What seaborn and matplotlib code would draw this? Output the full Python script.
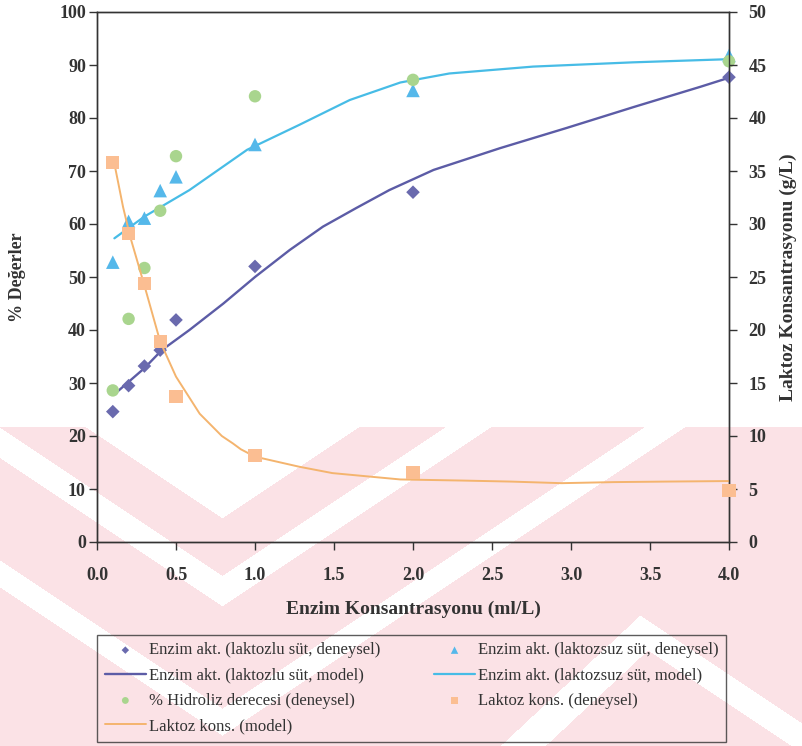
import numpy as np
import matplotlib
matplotlib.use("Agg")
import matplotlib.pyplot as plt
import seaborn as sns

# Enzyme concentration (ml/L) of the experiments
konsantrasyon = [0.1, 0.2, 0.3, 0.4, 0.5, 1.0, 2.0, 4.0]

# Experimental results
aktivite_laktozlu = [24.6, 29.5, 33.2, 36.2, 41.9, 52.0, 66.0, 87.7]
aktivite_laktozsuz = [52.8, 60.5, 61.1, 66.3, 68.9, 75.0, 85.2, 91.8]
hidroliz = [28.6, 42.1, 51.7, 62.5, 72.8, 84.1, 87.2, 90.7]
laktoz = [35.8, 29.1, 24.4, 18.9, 13.7, 8.2, 6.6, 4.9]  # g/L, right axis

# Model curves
model_laktozlu_x = [0.13, 0.30, 0.41, 0.585, 0.80, 1.0, 1.22, 1.43, 1.64, 1.85,
                    2.13, 2.55, 2.97, 3.40, 3.82, 4.0]
model_laktozlu_y = [28.4, 32.8, 36.2, 40.0, 45.0, 50.0, 55.1, 59.5, 63.0, 66.4,
                    70.2, 74.3, 78.1, 82.1, 85.9, 87.6]
model_laktozsuz_x = [0.11, 0.30, 0.585, 0.95, 1.28, 1.60, 1.92, 2.23, 2.76, 3.39, 4.0]
model_laktozsuz_y = [57.3, 61.4, 66.4, 74.0, 78.7, 83.4, 86.7, 88.4, 89.7, 90.5, 91.1]
model_laktoz_x = [0.11, 0.165, 0.21, 0.30, 0.40, 0.50, 0.65, 0.79, 0.86, 0.91, 1.0,
                  1.28, 1.49, 1.92, 2.3, 2.62, 2.94, 3.27, 3.6, 4.0]
model_laktoz_y = [35.7, 31.6, 28.8, 24.2, 18.9, 15.6, 12.1, 10.0, 9.3, 8.75, 8.05,
                  7.1, 6.5, 5.9, 5.8, 5.7, 5.55, 5.65, 5.7, 5.75]

x_ticks = [0.0, 0.5, 1.0, 1.5, 2.0, 2.5, 3.0, 3.5, 4.0]
sol_ticks = list(range(0, 101, 10))
sag_ticks = list(range(0, 51, 5))

etiketler = {
    "d_lu": "Enzim akt. (laktozlu süt, deneysel)",
    "m_lu": "Enzim akt. (laktozlu süt, model)",
    "hid": "% Hidroliz derecesi (deneysel)",
    "m_lak": "Laktoz kons. (model)",
    "d_suz": "Enzim akt. (laktozsuz süt, deneysel)",
    "m_suz": "Enzim akt. (laktozsuz süt, model)",
    "d_lak": "Laktoz kons. (deneysel)",
}

renk_mor = "#6a6aae"
renk_mor_cizgi = "#5c5ca6"
renk_mavi = "#55b8ea"
renk_mavi_cizgi = "#47bce6"
renk_yesil = "#a9d58e"
renk_turuncu = "#fbbe92"
renk_turuncu_cizgi = "#f4b46e"
koyu = "#333333"

sns.set_theme(style="white")
plt.rcParams["font.family"] = ["Liberation Serif", "DejaVu Serif"]

W, H = 802, 746
fig = plt.figure(figsize=(W / 100, H / 100), dpi=100)
fig.patch.set_facecolor("white")

# background stamp: pink chevron bands in the lower part of the page
yy, xx = np.mgrid[0:H, 0:W].astype(float)
s = xx + 1.5 * yy
t = xx - 1.5 * yy
d = np.maximum(s - 999.0, -555.0 - t)
beyaz = (d < 0) | ((d > 86) & (d < 132)) | ((d > 285) & (d < 326))
a = (xx - 640.0) - 1.5 * (yy - 615.0)
b = (640.0 - xx) - 1.07 * (yy - 615.0)
e = np.maximum(a, b)
beyaz |= (e > -45) & (e < 0)
pembe = (yy >= 427) & ~beyaz
img = np.ones((H, W, 3))
img[pembe] = np.array([251, 226, 230]) / 255.0
fig.figimage(img, xo=0, yo=0, origin="upper", zorder=-5)

ax = fig.add_axes([97 / W, 1 - 542 / H, 632 / W, 530 / H])
ax.patch.set_visible(False)
ax2 = ax.twinx()
ax2.patch.set_visible(False)

sns.lineplot(x=model_laktozlu_x, y=model_laktozlu_y, ax=ax, color=renk_mor_cizgi,
             lw=1.7, sort=False, estimator=None, label=etiketler["m_lu"], legend=False)
sns.lineplot(x=model_laktozsuz_x, y=model_laktozsuz_y, ax=ax, color=renk_mavi_cizgi,
             lw=1.6, sort=False, estimator=None, label=etiketler["m_suz"], legend=False)
sns.scatterplot(x=konsantrasyon, y=aktivite_laktozlu, ax=ax, marker="D", s=48,
                color=renk_mor, edgecolor="none", linewidth=0, zorder=3, clip_on=False,
                label=etiketler["d_lu"], legend=False)
sns.scatterplot(x=konsantrasyon, y=aktivite_laktozsuz, ax=ax, marker="^", s=95,
                color=renk_mavi, edgecolor="none", linewidth=0, zorder=3, clip_on=False,
                label=etiketler["d_suz"], legend=False)
sns.scatterplot(x=konsantrasyon, y=hidroliz, ax=ax, marker="o", s=80,
                color=renk_yesil, edgecolor="none", linewidth=0, zorder=3, clip_on=False,
                label=etiketler["hid"], legend=False)

sns.lineplot(x=model_laktoz_x, y=model_laktoz_y, ax=ax2, color=renk_turuncu_cizgi,
             lw=1.4, sort=False, estimator=None, label=etiketler["m_lak"], legend=False)
sns.scatterplot(x=konsantrasyon, y=laktoz, ax=ax2, marker="s", s=88,
                color=renk_turuncu, edgecolor="none", linewidth=0, zorder=3, clip_on=False,
                label=etiketler["d_lak"], legend=False)

ax.set_xlim(0, 4)
ax.set_ylim(0, 100)
ax2.set_ylim(0, 50)
ax.set_xticks(x_ticks)
ax.set_xticklabels([f"{v:.1f}" for v in x_ticks])
ax.set_yticks(sol_ticks)
ax2.set_yticks(sag_ticks)

for a_ in (ax, ax2):
    for sp in a_.spines.values():
        sp.set_color(koyu)
        sp.set_linewidth(1.0)
    a_.grid(False)

ax.tick_params(axis="x", bottom=True, top=False, direction="out", length=6, width=1,
               color=koyu, labelcolor=koyu, labelsize=13, pad=12)
ax.tick_params(axis="y", left=True, right=False, direction="out", length=6, width=1,
               color=koyu, labelcolor=koyu, labelsize=13, pad=2)
ax2.tick_params(axis="y", right=True, left=False, direction="out", length=6, width=1,
                color=koyu, labelcolor=koyu, labelsize=13, pad=8)
for lab in ax.get_xticklabels() + ax.get_yticklabels() + ax2.get_yticklabels():
    lab.set_fontweight("bold")

ax.set_xlabel("Enzim Konsantrasyonu (ml/L)", fontsize=14, fontweight="bold", color=koyu)
ax.xaxis.set_label_coords(0.5, -0.111)
ax.set_ylabel("% Değerler", fontsize=13, fontweight="bold", color=koyu)
ax.yaxis.set_label_coords(-0.113, 0.5)
ax2.set_ylabel("Laktoz Konsantrasyonu (g/L)", fontsize=14, fontweight="bold", color=koyu)
ax2.yaxis.set_label_coords(1.080, 0.5)

h1, l1 = ax.get_legend_handles_labels()
h2, l2 = ax2.get_legend_handles_labels()
tum = dict(zip(l1 + l2, h1 + h2))
sira = ["d_lu", "m_lu", "hid", "m_lak", "d_suz", "m_suz", "d_lak"]
handles = [tum[etiketler[k]] for k in sira]
labels = [etiketler[k] for k in sira]

leg = fig.legend(handles, labels, loc="upper left", ncol=2, mode="expand",
                 bbox_to_anchor=(97 / W, 4 / H, 629 / W, 107 / H),
                 bbox_transform=fig.transFigure, borderaxespad=0,
                 fontsize=12, markerscale=0.55, handlelength=2.5, handletextpad=0.15,
                 labelspacing=0.55, borderpad=0.45, frameon=True, fancybox=False)
leg.get_frame().set_facecolor("none")
leg.get_frame().set_edgecolor(koyu)
leg.get_frame().set_linewidth(1.0)
for txt in leg.get_texts():
    txt.set_color(koyu)

fig.savefig("out.png", dpi=100)
